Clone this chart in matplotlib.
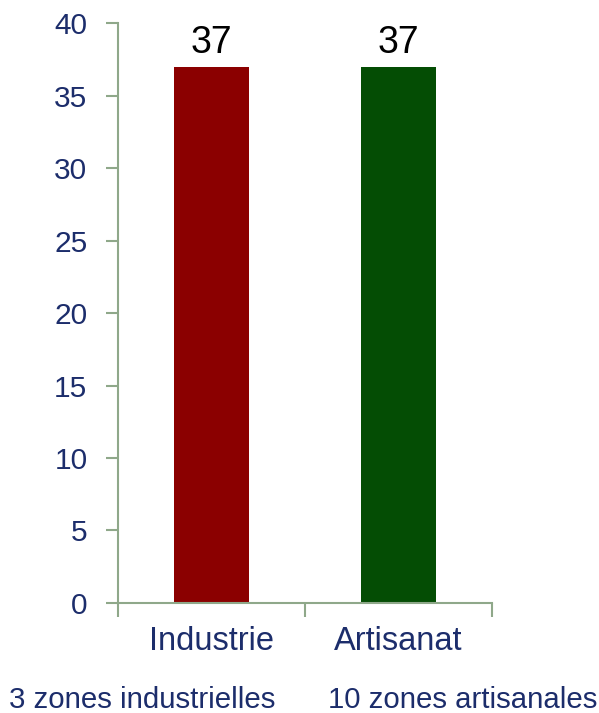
import matplotlib.pyplot as plt

# dane
kategorie = ["Industrie", "Artisanat"]
wartosci = [37, 37]
kolory = ["#8b0000", "#044d04"]
podpisy = ["3 zones industrielles", "10 zones artisanales"]
yticks = [0, 5, 10, 15, 20, 25, 30, 35, 40]

granat = "#1c2d6b"
os_kolor = "#8fa88a"

plt.rcParams['font.family'] = ['Liberation Sans', 'DejaVu Sans']

fig = plt.figure(figsize=(5.99, 7.13), dpi=100)
ax = fig.add_axes([0.197, 0.1543, 0.624, 0.8134])

x = range(len(kategorie))
slupki = ax.bar(x, wartosci, width=0.4, color=kolory)

# etykiety wartosci nad slupkami
for s, v in zip(slupki, wartosci):
    ax.text(s.get_x() + s.get_width() / 2, v + 0.95, str(v),
            ha='center', va='baseline', fontsize=27, color='black')

ax.set_xlim(-0.5, 1.5)
ax.set_ylim(0, 40)
ax.set_yticks(yticks)
ax.set_yticklabels([str(t) for t in yticks], fontsize=21.5, color=granat)

# kreski na osi x miedzy kategoriami
ax.set_xticks([-0.5, 0.5, 1.5])
ax.set_xticklabels([])
ax.tick_params(axis='x', length=10, width=1.5, color=os_kolor)
ax.tick_params(axis='y', length=9, width=1.5, color=os_kolor, pad=13)

for i, k in enumerate(kategorie):
    ax.text(i, -1.6, k, ha='center', va='top', fontsize=23.5, color=granat)

for side in ['top', 'right']:
    ax.spines[side].set_visible(False)
for side in ['left', 'bottom']:
    ax.spines[side].set_color(os_kolor)
    ax.spines[side].set_linewidth(1.5)

fig.text(0.015, 0.007, podpisy[0], ha='left', va='baseline', fontsize=21.2, color=granat)
fig.text(0.997, 0.007, podpisy[1], ha='right', va='baseline', fontsize=21.2, color=granat)

plt.savefig("out.png", dpi=100)
